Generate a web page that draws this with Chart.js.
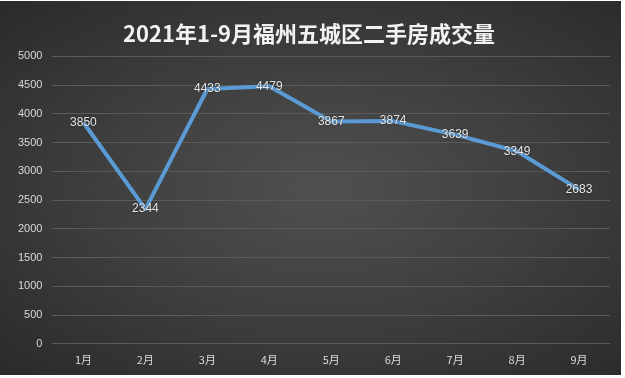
<!DOCTYPE html>
<html>
<head>
<meta charset="utf-8">
<script src="https://cdn.jsdelivr.net/npm/chart.js@4"></script>
<style>
  html, body { margin: 0; padding: 0; background: #fff; }
  #wrap {
    position: absolute; left: 0; top: 1px; width: 621px; height: 374px;
    background: radial-gradient(ellipse at 52% 50%, #505050 0%, #3e3e3e 50%, #2a2a2a 100%);
  }
</style>
</head>
<body>
<div id="wrap"><canvas id="chart" width="621" height="374"></canvas></div>
<script>
const months = ['1月', '2月', '3月', '4月', '5月', '6月', '7月', '8月', '9月'];
const volumes = [3850, 2344, 4433, 4479, 3867, 3874, 3639, 3349, 2683];
const yTicks = [0, 500, 1000, 1500, 2000, 2500, 3000, 3500, 4000, 4500, 5000];

const textColor = '#d9d9d9';
const gridColor = '#5a5a5a';

// value labels sit right on top of each point, like the Excel "center" position
const pointLabels = {
  id: 'pointLabels',
  afterDatasetsDraw(chart) {
    const ctx = chart.ctx;
    const meta = chart.getDatasetMeta(0);
    ctx.save();
    ctx.font = '12px "Liberation Sans", Arial, sans-serif';
    ctx.fillStyle = '#e6e6e6';
    ctx.textAlign = 'center';
    ctx.textBaseline = 'middle';
    ctx.shadowColor = 'rgba(0,0,0,0.6)';
    ctx.shadowBlur = 2;
    meta.data.forEach((pt, i) => {
      ctx.fillText(String(volumes[i]), pt.x, pt.y);
    });
    ctx.restore();
  }
};

new Chart(document.getElementById('chart').getContext('2d'), {
  type: 'line',
  data: {
    labels: months,
    datasets: [{
      label: '二手房成交量',
      data: volumes,
      borderColor: '#5b9bd5',
      borderWidth: 4,
      pointRadius: 0,
      tension: 0,
      borderJoinStyle: 'round'
    }]
  },
  options: {
    responsive: false,
    animation: false,
    layout: { padding: { left: 8, right: 11, top: 0, bottom: 0 } },
    plugins: {
      legend: { display: false },
      tooltip: { enabled: false },
      title: {
        display: true,
        text: '2021年1-9月福州五城区二手房成交量',
        color: '#f2f2f2',
        font: { family: '"Noto Sans CJK SC", sans-serif', size: 22, weight: 'bold' },
        padding: { top: 19, bottom: 10 }
      }
    },
    scales: {
      x: {
        offset: true,
        grid: { display: false, drawTicks: false },
        border: { display: false },
        ticks: {
          color: textColor,
          padding: 9,
          font: { family: '"Noto Sans CJK SC", sans-serif', size: 11 }
        }
      },
      y: {
        min: 0,
        max: 5000,
        afterBuildTicks(axis) { axis.ticks = yTicks.map((v) => ({ value: v })); },
        grid: { color: gridColor, drawTicks: false },
        border: { display: false },
        ticks: {
          color: textColor,
          padding: 10,
          font: { family: '"Liberation Sans", Arial, sans-serif', size: 11 },
          callback: (v) => String(v)
        }
      }
    }
  },
  plugins: [pointLabels]
});
</script>
</body>
</html>
